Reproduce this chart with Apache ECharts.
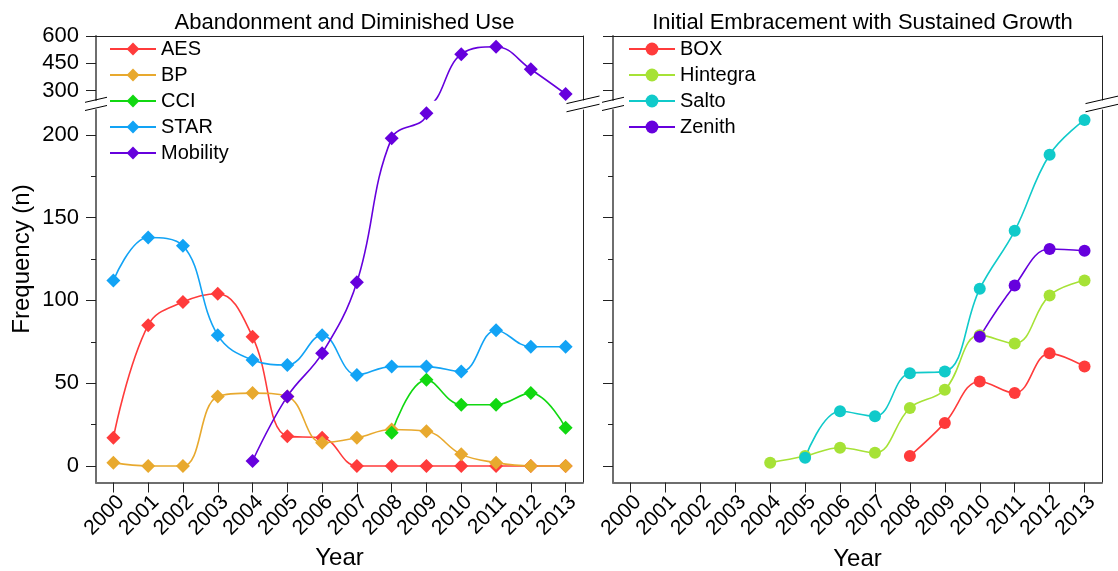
<!DOCTYPE html>
<html>
<head>
<meta charset="utf-8">
<script src="https://cdn.jsdelivr.net/npm/echarts@6/dist/echarts.min.js"></script>
<style>
  html, body { margin: 0; padding: 0; background: #fff; }
  #main { width: 1118px; height: 571px; }
</style>
</head>
<body>
<div id="main"></div>
<script>
// years on the x axis (both panels)
var years = ['2000', '2001', '2002', '2003', '2004', '2005', '2006',
             '2007', '2008', '2009', '2010', '2011', '2012', '2013'];

// left panel: abandonment and diminished use
var aes      = [17, 85, 99, 104, 78, 18, 17, 0, 0, 0, 0, 0, 0, 0];
var bp       = [2, 0, 0, 42, 44, 42, 14, 17, 22, 21, 7, 2, 0, 0];
var cci      = [null, null, null, null, null, null, null, null, 20, 52, 37, 37, 44, 23];
var star     = [112, 138, 133, 79, 64, 61, 79, 55, 60, 60, 57, 82, 72, 72];
var mobility = [null, null, null, null, 3, 42, 68, 111, 198, 213, 500, 541, 417, 281];

// right panel: initial embracement with sustained growth
var box      = [null, null, null, null, null, null, null, null, 6, 26, 51, 44, 68, 60];
var hintegra = [null, null, null, null, 2, 6, 11, 8, 35, 46, 79, 74, 103, 112];
var salto    = [null, null, null, null, null, 5, 33, 30, 56, 57, 107, 142, 188, 209];
var zenith   = [null, null, null, null, null, null, null, null, null, null, 78, 109, 131, 130];

// tick labels of the broken y axis
var upperTicks = [300, 450, 600];
var lowerTicks = [0, 50, 100, 150, 200];
var lowerMinor = [25, 75, 125, 175];

var myChart = echarts.init(document.getElementById('main'));

var FONT = 'Liberation Sans, Arial, sans-serif';
var AXIS_GRAY = '#6e6e6e';

// panel frames (left edge and width), break split
var panels = [{ left: 96, width: 487, nameGap: 60 }, { left: 613, width: 489, nameGap: 65 }];
var upperTop = 36, upperH = 64;
var lowerTop = 110, lowerH = 372.5;

var grids = [], xAxes = [], yAxes = [];

panels.forEach(function (p, i) {
    var showLabels = (i === 0);
    grids.push({ left: p.left, width: p.width, top: upperTop, height: upperH, outerBoundsMode: 'none' });
    grids.push({ left: p.left, width: p.width, top: lowerTop, height: lowerH, outerBoundsMode: 'none' });
    var g0 = i * 2, g1 = i * 2 + 1;

    // top border
    xAxes.push({
        gridIndex: g0, type: 'category', data: years, position: 'top', boundaryGap: true,
        axisLine: { show: true, onZero: false, lineStyle: { color: '#222', width: 1 } },
        axisTick: { show: false }, axisLabel: { show: false }, splitLine: { show: false }
    });
    // bottom axis
    xAxes.push({
        gridIndex: g1, type: 'category', data: years, position: 'bottom', boundaryGap: true,
        name: 'Year', nameLocation: 'middle', nameGap: p.nameGap,
        nameTextStyle: { fontFamily: FONT, fontSize: 24, color: '#000' },
        axisLine: { show: true, onZero: false, lineStyle: { color: AXIS_GRAY, width: 2 } },
        axisTick: { show: true, alignWithLabel: true, length: 10, lineStyle: { color: '#222' } },
        axisLabel: { interval: 0, rotate: 45, margin: 9, verticalAlign: 'top',
                     fontFamily: FONT, fontSize: 21, color: '#000' },
        splitLine: { show: false }
    });

    // upper segment y axes
    yAxes.push({
        gridIndex: g0, type: 'value', min: 248, max: 600, position: 'left',
        axisLine: { show: true, lineStyle: { color: AXIS_GRAY, width: 2 } },
        axisTick: { show: true, length: 10, customValues: upperTicks, lineStyle: { color: '#222' } },
        axisLabel: { show: showLabels, customValues: upperTicks, margin: 17, fontFamily: FONT, fontSize: 22, color: '#000' },
        splitLine: { show: false }
    });
    yAxes.push({
        gridIndex: g0, type: 'value', min: 248, max: 600, position: 'right',
        axisLine: { show: true, lineStyle: { color: '#222', width: 1 } },
        axisTick: { show: false }, axisLabel: { show: false }, splitLine: { show: false }
    });
    // lower segment y axes
    yAxes.push({
        gridIndex: g1, type: 'value', min: -10, max: 215, position: 'left',
        axisLine: { show: true, lineStyle: { color: AXIS_GRAY, width: 2 } },
        axisTick: { show: true, length: 10, customValues: lowerTicks, lineStyle: { color: '#222' } },
        axisLabel: { show: showLabels, customValues: lowerTicks, margin: 17, fontFamily: FONT, fontSize: 22, color: '#000' },
        splitLine: { show: false }
    });
    yAxes.push({
        gridIndex: g1, type: 'value', min: -10, max: 215, position: 'right',
        axisLine: { show: true, lineStyle: { color: '#222', width: 1 } },
        axisTick: { show: false }, axisLabel: { show: false }, splitLine: { show: false }
    });
    // minor ticks
    yAxes.push({
        gridIndex: g1, type: 'value', min: -10, max: 215, position: 'left',
        axisLine: { show: false },
        axisTick: { show: true, length: 5, customValues: lowerMinor, lineStyle: { color: '#222' } },
        axisLabel: { show: false, customValues: lowerMinor }, splitLine: { show: false }
    });
});

// axis indices: left upper y = 0, left lower y = 2, right upper y = 5, right lower y = 7
function line(name, data, color, symbol, xi, yi) {
    return {
        name: name, type: 'line', data: data, xAxisIndex: xi, yAxisIndex: yi,
        smooth: 0.4, symbol: symbol, symbolSize: symbol === 'diamond' ? 14 : 12,
        lineStyle: { color: color, width: 1.6 }, itemStyle: { color: color },
        clip: true
    };
}

var series = [
    line('AES', aes, '#ff3b3b', 'diamond', 1, 2),
    line('BP', bp, '#e8a92e', 'diamond', 1, 2),
    line('CCI', cci, '#11d811', 'diamond', 1, 2),
    line('STAR', star, '#12a3f5', 'diamond', 1, 2),
    line('Mobility', mobility, '#6600dd', 'diamond', 1, 2),
    line('Mobility', mobility, '#6600dd', 'diamond', 0, 0),
    line('BOX', box, '#ff3b3b', 'circle', 3, 7),
    line('Hintegra', hintegra, '#a6e236', 'circle', 3, 7),
    line('Salto', salto, '#10caca', 'circle', 3, 7),
    line('Zenith', zenith, '#6600dd', 'circle', 3, 7)
];

// break marks "//" on the y axes and right borders
function breakMarks(x, len) {
    var h = len / 2;
    var dy = len * 0.23 / 2;
    var els = [];
    [99.8, 108].forEach(function (cy) {
        els.push({
            type: 'line', z: 100,
            shape: { x1: x - h, y1: cy + dy, x2: x + h, y2: cy - dy },
            style: { stroke: '#000', lineWidth: 1 }
        });
    });
    return els;
}

var graphics = []
    .concat(breakMarks(96, 22))
    .concat(breakMarks(583, 33))
    .concat(breakMarks(613, 22))
    .concat(breakMarks(1102, 33));

graphics.push({
    type: 'text', x: 22, y: 259, rotation: Math.PI / 2,
    style: { text: 'Frequency (n)', font: '24px Liberation Sans, Arial, sans-serif', fill: '#000',
             textAlign: 'center', textVerticalAlign: 'middle' }
});

var legendText = { fontFamily: FONT, fontSize: 20, color: '#000', lineHeight: 20 };

var option = {
    animation: false,
    backgroundColor: '#fff',
    title: [
        { text: 'Abandonment and Diminished Use', left: 339.5, top: 7, textAlign: 'center',
          textStyle: { fontFamily: FONT, fontSize: 22, fontWeight: 'normal', color: '#000' } },
        { text: 'Initial Embracement with Sustained Growth', left: 857.5, top: 7, textAlign: 'center',
          textStyle: { fontFamily: FONT, fontSize: 22, fontWeight: 'normal', color: '#000' } }
    ],
    legend: [
        { orient: 'vertical', left: 104, top: 34, itemWidth: 46, itemHeight: 16, itemGap: 6,
          data: ['AES', 'BP', 'CCI', 'STAR', 'Mobility'], textStyle: legendText, selectedMode: false },
        { orient: 'vertical', left: 623, top: 34, itemWidth: 46, itemHeight: 16, itemGap: 6,
          data: ['BOX', 'Hintegra', 'Salto', 'Zenith'], textStyle: legendText, selectedMode: false }
    ],
    grid: grids,
    xAxis: xAxes,
    yAxis: yAxes,
    series: series,
    graphic: graphics
};

myChart.setOption(option);
</script>
</body>
</html>
